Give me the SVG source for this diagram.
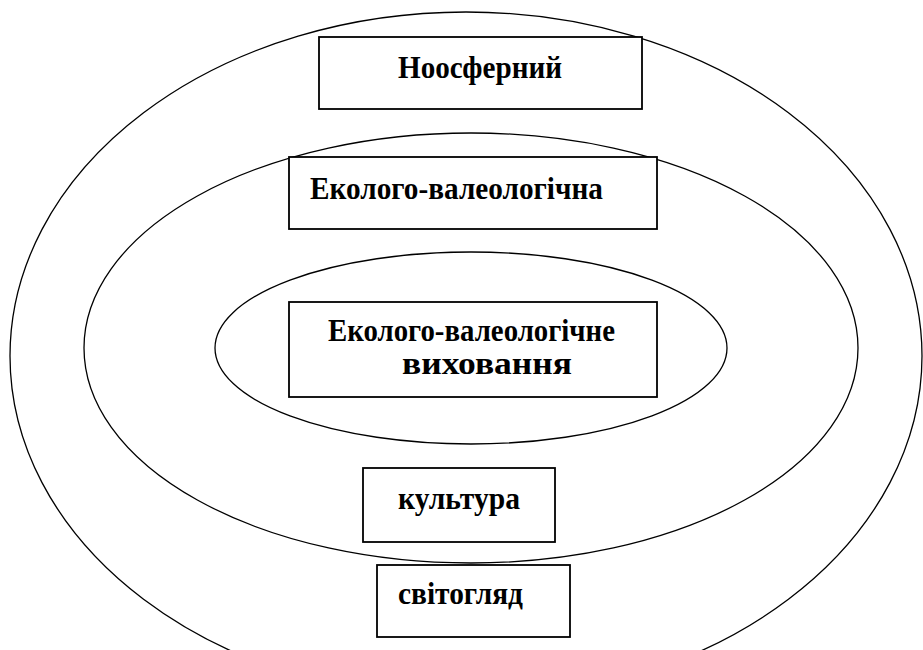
<svg xmlns="http://www.w3.org/2000/svg" width="923" height="650" viewBox="0 0 923 650">
<style>
.ell{fill:none;stroke:#000;stroke-width:1.3}
.box{fill:#fff;stroke:#000;stroke-width:1.8}
.t{font-family:"Liberation Serif","Times New Roman",serif;font-weight:bold;font-size:31px;fill:#000}
</style>
<rect width="923" height="650" fill="#fff"/>
<g id="connectors"></g>
<g id="outer"><ellipse class="ell" cx="466" cy="356" rx="456" ry="344"/></g>
<g id="middle"><ellipse class="ell" cx="471" cy="348" rx="387" ry="215"/></g>
<g id="inner"><ellipse class="ell" cx="471" cy="348" rx="256" ry="96"/></g>
<g id="noosfernyi"><rect class="box" x="319" y="37" width="323" height="72"/><text class="t" x="398" y="78" textLength="164" lengthAdjust="spacingAndGlyphs">Ноосферний</text></g>
<g id="ekol-val"><rect class="box" x="289" y="157" width="368" height="72"/><text class="t" x="310" y="199" textLength="293" lengthAdjust="spacingAndGlyphs">Еколого-валеологічна</text></g>
<g id="ekol-vych"><rect class="box" x="289" y="302" width="368" height="95"/><text class="t" x="328" y="341" textLength="287" lengthAdjust="spacingAndGlyphs">Еколого-валеологічне</text><text class="t" x="402" y="374" textLength="170" lengthAdjust="spacingAndGlyphs">виховання</text></g>
<g id="kultura"><rect class="box" x="363" y="468" width="192" height="74"/><text class="t" x="398" y="509" textLength="122" lengthAdjust="spacingAndGlyphs">культура</text></g>
<g id="svitohliad"><rect class="box" x="377" y="565" width="193" height="72"/><text class="t" x="398" y="604" textLength="125" lengthAdjust="spacingAndGlyphs">світогляд</text></g>
</svg>
